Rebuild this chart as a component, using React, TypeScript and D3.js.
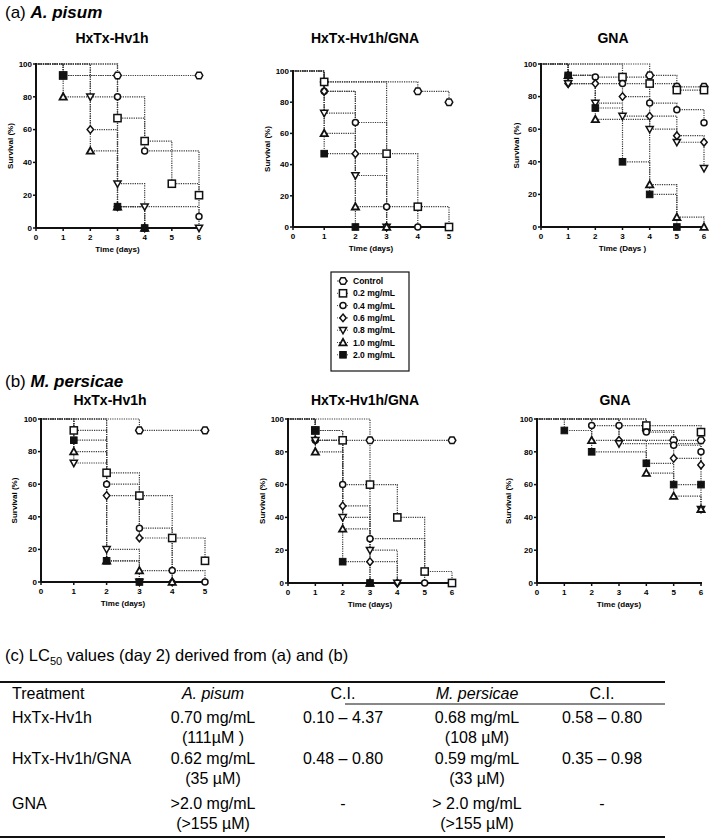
import React from "react";
import * as d3 from "d3";

const treatments = ["Control", "0.2 mg/mL", "0.4 mg/mL", "0.6 mg/mL", "0.8 mg/mL", "1.0 mg/mL", "2.0 mg/mL"];
const markerKinds = ["hex", "square", "circle", "diamond", "down", "up", "fsquare"];
const yTicks = [0, 20, 40, 60, 80, 100];

// survival points [day, %] per treatment (order as treatments)
const aHx: number[][][] = [
  [[3, 93], [6, 93]],
  [[1, 93], [3, 67], [4, 53], [5, 27], [6, 20]],
  [[3, 80], [4, 47], [6, 7]],
  [[2, 60], [3, 13], [4, 0]],
  [[2, 80], [3, 27], [4, 13], [6, 0]],
  [[1, 80], [2, 47], [3, 13], [4, 0]],
  [[1, 93], [3, 13], [4, 0]],
];
const aHxGna: number[][][] = [
  [[1, 93], [4, 87], [5, 80]],
  [[1, 93], [3, 47], [4, 13], [5, 0]],
  [[1, 87], [2, 67], [3, 13], [4, 0]],
  [[1, 87], [2, 47], [3, 0]],
  [[1, 73], [2, 33], [3, 0]],
  [[1, 60], [2, 13], [3, 0]],
  [[1, 47], [2, 0]],
];
const aGna: number[][][] = [
  [[4, 93], [5, 86], [6, 86]],
  [[3, 92], [4, 88], [5, 84], [6, 84]],
  [[1, 93], [2, 92], [3, 88], [4, 76], [5, 72], [6, 64]],
  [[1, 88], [2, 88], [3, 80], [4, 68], [5, 56], [6, 52]],
  [[1, 88], [2, 76], [3, 68], [4, 60], [5, 52], [6, 36]],
  [[1, 93], [2, 66], [4, 26], [5, 6], [6, 0]],
  [[1, 93], [2, 73], [3, 40], [4, 20], [5, 0]],
];
const bHx: number[][][] = [
  [[3, 93], [5, 93]],
  [[1, 93], [2, 67], [3, 53], [4, 27], [5, 13]],
  [[2, 60], [3, 33], [4, 7], [5, 0]],
  [[2, 53], [3, 27], [4, 0]],
  [[1, 73], [2, 20], [3, 0]],
  [[1, 80], [2, 13], [3, 7], [4, 0]],
  [[1, 87], [2, 13], [3, 0]],
];
const bHxGna: number[][][] = [
  [[3, 87], [6, 87]],
  [[1, 93], [2, 87], [3, 60], [4, 40], [5, 7], [6, 0]],
  [[1, 87], [2, 60], [3, 27], [5, 0]],
  [[1, 87], [2, 47], [3, 13], [4, 0]],
  [[1, 87], [2, 40], [3, 20], [4, 0]],
  [[1, 80], [2, 33], [3, 0]],
  [[1, 93], [2, 13], [3, 0]],
];
const bGna: number[][][] = [
  [[4, 93], [5, 87], [6, 87]],
  [[4, 96], [6, 92]],
  [[2, 96], [3, 96], [4, 92], [5, 84], [6, 80]],
  [[3, 87], [5, 76], [6, 72]],
  [[3, 85], [6, 45]],
  [[2, 87], [4, 67], [5, 53], [6, 45]],
  [[1, 93], [2, 80], [4, 73], [5, 60], [6, 60]],
];

const tableHeader = ["Treatment", "A. pisum", "C.I.", "M. persicae", "C.I."];
const tableRows = [
  ["HxTx-Hv1h", "0.70 mg/mL", "(111\u00b5M )", "0.10 \u2013 4.37", "0.68 mg/mL", "(108 \u00b5M)", "0.58 \u2013 0.80"],
  ["HxTx-Hv1h/GNA", "0.62 mg/mL", "(35 \u00b5M)", "0.48 \u2013 0.80", "0.59 mg/mL", "(33 \u00b5M)", "0.35 \u2013 0.98"],
  ["GNA", ">2.0 mg/mL", "(>155 \u00b5M)", "-", "> 2.0 mg/mL", "(>155 \u00b5M)", "-"],
];

const FONT = "'Liberation Sans', Arial, sans-serif";

function Marker({ kind, x, y }: { kind: string; x: number; y: number }) {
  const sw = 1.5;
  const st = "#111";
  switch (kind) {
    case "hex": {
      const r = 3.8;
      const pts = d3.range(6).map((i) => {
        const a = (Math.PI / 3) * i;
        return [x + r * Math.cos(a), y + r * Math.sin(a)].join(",");
      });
      return <polygon points={pts.join(" ")} fill="#fff" stroke={st} strokeWidth={sw} />;
    }
    case "square":
      return <rect x={x - 3.6} y={y - 3.6} width={7.2} height={7.2} fill="#fff" stroke={st} strokeWidth={sw} />;
    case "circle":
      return <circle cx={x} cy={y} r={3} fill="#fff" stroke={st} strokeWidth={sw} />;
    case "diamond":
      return <polygon points={`${x},${y - 3.8} ${x + 3.2},${y} ${x},${y + 3.8} ${x - 3.2},${y}`} fill="#fff" stroke={st} strokeWidth={sw} />;
    case "down":
      return <polygon points={`${x - 3.6},${y - 2.8} ${x + 3.6},${y - 2.8} ${x},${y + 3.6}`} fill="#fff" stroke={st} strokeWidth={sw} />;
    case "up":
      return <polygon points={`${x - 3.6},${y + 2.8} ${x + 3.6},${y + 2.8} ${x},${y - 3.6}`} fill="#fff" stroke={st} strokeWidth={1.8} />;
    default:
      return <rect x={x - 3.3} y={y - 3.3} width={6.6} height={6.6} fill="#111" stroke={st} strokeWidth={1} />;
  }
}

interface PanelProps {
  title: string;
  data: number[][][];
  maxDay: number;
  x0: number;
  x1: number;
  yTop: number;
  yBot: number;
  titleY: number;
  titleX: number;
  ylabX: number;
  xlabel: string;
}

function Panel(p: PanelProps) {
  const x = d3.scaleLinear().domain([0, p.maxDay]).range([p.x0, p.x1]);
  const y = d3.scaleLinear().domain([0, 100]).range([p.yBot, p.yTop]);
  const line = d3
    .line<number[]>()
    .x((d) => x(d[0]))
    .y((d) => y(d[1]))
    .curve(d3.curveStepAfter);
  const days = d3.range(0, p.maxDay + 1);
  return (
    <g>
      <text x={p.titleX} y={p.titleY} textAnchor="middle" fontFamily={FONT} fontWeight="bold" fontSize={14}>
        {p.title}
      </text>
      {p.data.map((s, i) => (
        <path key={"l" + i} d={line([[0, 100], ...s]) || ""} fill="none" stroke="#3a3a3a" strokeWidth={1.2} strokeDasharray="1.2,1.1" />
      ))}
      <line x1={p.x0} x2={p.x0} y1={p.yTop - 1} y2={p.yBot} stroke="#111" strokeWidth={2} />
      <line x1={p.x0} x2={p.x1 + 1} y1={p.yBot} y2={p.yBot} stroke="#111" strokeWidth={2} />
      {yTicks.map((t) => (
        <g key={"y" + t}>
          <line x1={p.x0 - 3} x2={p.x0} y1={y(t)} y2={y(t)} stroke="#111" strokeWidth={1.5} />
          <text x={p.x0 - 4} y={y(t) + 2.8} textAnchor="end" fontFamily={FONT} fontWeight="bold" fontSize={8}>
            {t}
          </text>
        </g>
      ))}
      {days.map((d) => (
        <g key={"x" + d}>
          <line x1={x(d)} x2={x(d)} y1={p.yBot} y2={p.yBot + 3} stroke="#111" strokeWidth={1.5} />
          <text x={x(d)} y={p.yBot + 11.5} textAnchor="middle" fontFamily={FONT} fontWeight="bold" fontSize={8}>
            {d}
          </text>
        </g>
      ))}
      <text
        transform={`translate(${p.ylabX},${(p.yTop + p.yBot) / 2}) rotate(-90)`}
        textAnchor="middle"
        fontFamily={FONT}
        fontWeight="bold"
        fontSize={8}
      >
        Survival (%)
      </text>
      <text x={(p.x0 + p.x1) / 2} y={p.yBot + 24} textAnchor="middle" fontFamily={FONT} fontWeight="bold" fontSize={8}>
        {p.xlabel}
      </text>
      {p.data.map((s, i) => (
        <g key={"m" + i}>
          {s.map((d, j) => (
            <Marker key={j} kind={markerKinds[i]} x={x(d[0])} y={y(d[1])} />
          ))}
        </g>
      ))}
    </g>
  );
}

export default function App() {
  const colX = [12, 213, 343, 477, 602];
  const rowY = [717, 758, 803];
  return (
    <svg width={709} height={839} style={{ position: "absolute", left: 0, top: 0, background: "#fff" }}>
      <rect width={709} height={839} fill="#fff" />
      <text x={5} y={18} fontFamily={FONT} fontSize={17}>
        (a) <tspan fontWeight="bold" fontStyle="italic">A. pisum</tspan>
      </text>
      <text x={5} y={387} fontFamily={FONT} fontSize={17}>
        (b) <tspan fontWeight="bold" fontStyle="italic">M. persicae</tspan>
      </text>

      <Panel title="HxTx-Hv1h" data={aHx} maxDay={6} x0={36} x1={199} yTop={64} yBot={228} titleX={112} titleY={43} ylabX={13} xlabel="Time (days)" />
      <Panel title="HxTx-Hv1h/GNA" data={aHxGna} maxDay={5} x0={293} x1={449} yTop={71} yBot={227} titleX={365} titleY={43} ylabX={270} xlabel="Time (days)" />
      <Panel title="GNA" data={aGna} maxDay={6} x0={541} x1={704} yTop={64} yBot={227} titleX={613} titleY={43} ylabX={519} xlabel="Time (Days )" />
      <Panel title="HxTx-Hv1h" data={bHx} maxDay={5} x0={41} x1={205} yTop={419} yBot={582} titleX={110} titleY={405} ylabX={17} xlabel="Time (days)" />
      <Panel title="HxTx-Hv1h/GNA" data={bHxGna} maxDay={6} x0={288} x1={452} yTop={419} yBot={583} titleX={365} titleY={405} ylabX={265} xlabel="Time (days)" />
      <Panel title="GNA" data={bGna} maxDay={6} x0={537} x1={701} yTop={419} yBot={583} titleX={615} titleY={405} ylabX={511} xlabel="Time (days)" />

      {/* legend */}
      <rect x={331} y={272} width={78} height={99} fill="#fff" stroke="#111" strokeWidth={1.2} />
      {treatments.map((t, i) => {
        const yy = 281 + i * 12.3;
        return (
          <g key={t}>
            <line x1={337} x2={349} y1={yy} y2={yy} stroke="#444" strokeWidth={1} strokeDasharray="1,1" />
            <Marker kind={markerKinds[i]} x={343} y={yy} />
            <text x={353} y={yy + 3} fontFamily={FONT} fontSize={8.5} fontWeight="bold">
              {t}
            </text>
          </g>
        );
      })}

      {/* table */}
      <text x={5} y={661} fontFamily={FONT} fontSize={16.5}>
        (c) LC<tspan fontSize={11} dy={4}>50</tspan>
        <tspan dy={-4}> values (day 2) derived from (a) and (b)</tspan>
      </text>
      <line x1={0} x2={665} y1={682} y2={682} stroke="#111" strokeWidth={2} />
      <line x1={345} x2={665} y1={704} y2={704} stroke="#111" strokeWidth={1} />
      <line x1={0} x2={665} y1={837} y2={837} stroke="#111" strokeWidth={2} />
      {tableHeader.map((h, i) => (
        <text
          key={"h" + i}
          x={colX[i]}
          y={699}
          textAnchor={i === 0 ? "start" : "middle"}
          fontFamily={FONT}
          fontSize={16}
          fontStyle={i === 1 || i === 3 ? "italic" : "normal"}
        >
          {h}
        </text>
      ))}
      {tableRows.map((r, ri) => {
        const yy = rowY[ri] + 6;
        return (
          <g key={"r" + ri} fontFamily={FONT} fontSize={16}>
            <text x={colX[0]} y={yy}>{r[0]}</text>
            <text x={colX[1]} y={yy} textAnchor="middle">{r[1]}</text>
            <text x={colX[1]} y={yy + 20} textAnchor="middle">{r[2]}</text>
            <text x={colX[2]} y={yy} textAnchor="middle">{r[3]}</text>
            <text x={colX[3]} y={yy} textAnchor="middle">{r[4]}</text>
            <text x={colX[3]} y={yy + 20} textAnchor="middle">{r[5]}</text>
            <text x={colX[4]} y={yy} textAnchor="middle">{r[6]}</text>
          </g>
        );
      })}
    </svg>
  );
}
